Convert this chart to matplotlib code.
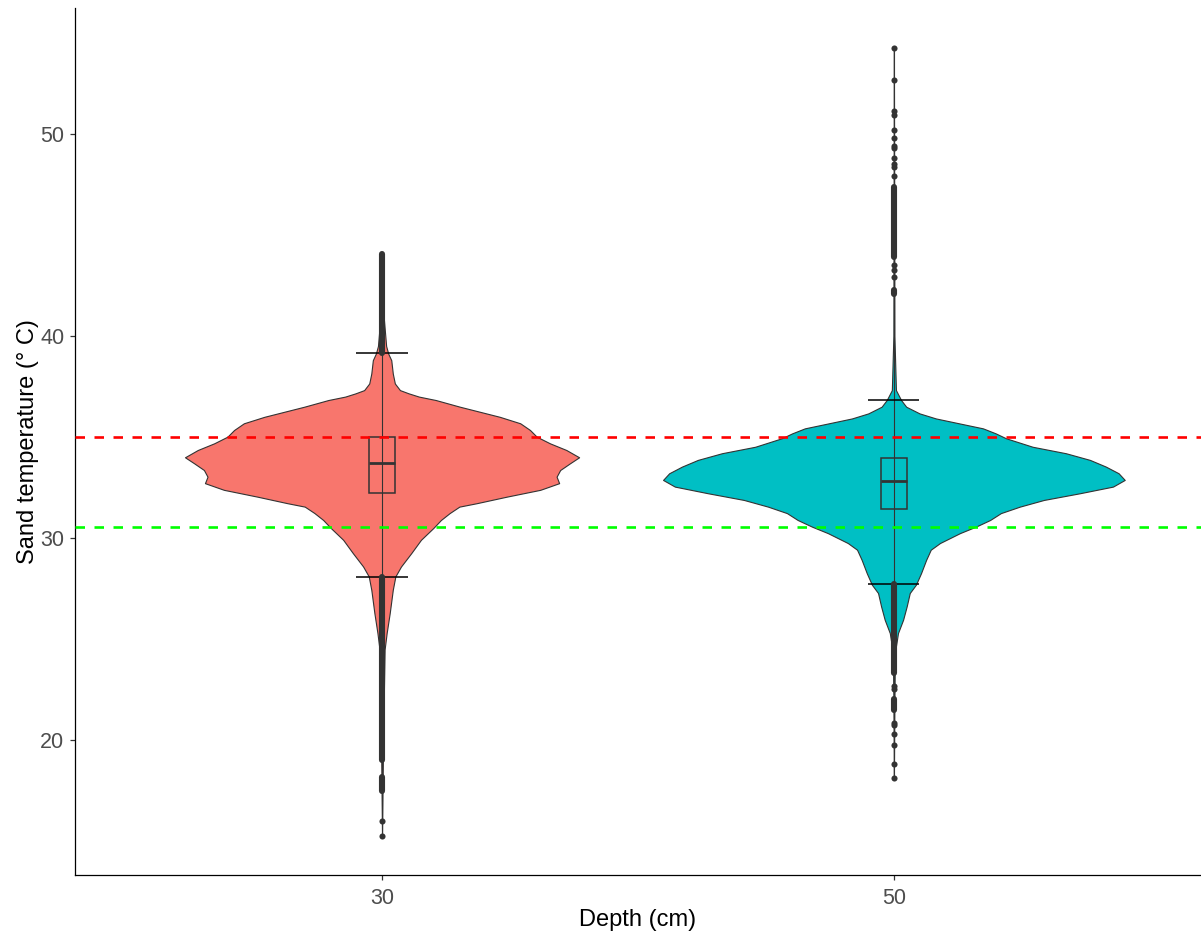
"""
Sand temperature at two burial depths: violins with box plots
"""

import matplotlib

matplotlib.use("Agg")
from matplotlib import pyplot as plt

DEPTHS = ["30", "50"]
FILL_COLOURS = ["#F8766D", "#00BFC4"]

# violin outlines: temperature (°C) and half width (x units) at that temperature
VIOLIN_30_TEMP = [
    15.28, 20.0, 24.5, 25.31, 26.30, 27.45, 28.11, 28.60, 29.26, 29.92,
    30.50, 30.90, 31.24, 31.56, 31.73, 32.05, 32.39, 32.72, 33.04, 33.37,
    33.70, 34.00, 34.36, 34.69, 35.02, 35.35, 35.68, 36.00, 36.25, 36.50,
    36.83, 37.00, 37.16, 37.32, 37.65, 38.14, 38.80, 39.13, 39.5, 41.0,
    44.05,
]
VIOLIN_30_HALF = [
    0.0, 0.002, 0.005, 0.009, 0.015, 0.021, 0.026, 0.037, 0.057, 0.076,
    0.100, 0.115, 0.132, 0.151, 0.185, 0.243, 0.309, 0.346, 0.341, 0.348,
    0.367, 0.385, 0.360, 0.328, 0.302, 0.289, 0.270, 0.230, 0.191, 0.152,
    0.105, 0.072, 0.052, 0.035, 0.025, 0.021, 0.018, 0.012, 0.008, 0.003,
    0.0,
]
VIOLIN_50_TEMP = [
    18.16, 22.0, 24.33, 25.31, 25.97, 26.63, 27.29, 27.70, 28.27, 28.93,
    29.43, 29.76, 30.25, 30.57, 30.90, 31.24, 31.56, 31.89, 32.22, 32.55,
    32.88, 33.21, 33.54, 33.87, 34.20, 34.52, 34.94, 35.18, 35.43, 35.68,
    35.92, 36.17, 36.50, 36.83, 37.32, 40.0, 54.23,
]
VIOLIN_50_HALF = [
    0.0, 0.001, 0.002, 0.008, 0.018, 0.025, 0.031, 0.043, 0.053, 0.063,
    0.072, 0.090, 0.129, 0.160, 0.188, 0.209, 0.246, 0.293, 0.363, 0.428,
    0.451, 0.439, 0.414, 0.383, 0.336, 0.271, 0.219, 0.199, 0.174, 0.127,
    0.082, 0.050, 0.024, 0.014, 0.004, 0.001, 0.0,
]

# box plot statistics per depth
BOX_Q1 = [32.22, 31.46]
BOX_MEDIAN = [33.70, 32.83]
BOX_Q3 = [35.02, 33.95]
WHISKER_LOW = [28.07, 27.73]
WHISKER_HIGH = [39.14, 36.83]
TEMP_MIN = [15.28, 18.16]
TEMP_MAX = [44.05, 54.23]

# outliers: runs where the points overlap into a solid bar, and single points
OUTLIER_RUNS_30 = [(39.14, 44.05), (19.05, 28.07), (17.49, 18.17)]
OUTLIER_POINTS_30 = [16.02, 15.28]
OUTLIER_RUNS_50 = [(43.88, 47.37), (42.07, 42.27), (23.32, 27.73), (21.52, 22.04)]
OUTLIER_POINTS_50 = [
    54.23, 52.65, 51.10, 50.90, 50.18, 49.77, 49.41, 49.29, 48.78, 48.50,
    48.34, 47.93, 43.50, 43.25, 42.90, 22.70, 22.55, 20.85, 20.78, 20.30,
    19.77, 18.85, 18.16,
]

# reference temperatures
UPPER_LIMIT = 35.0
LOWER_LIMIT = 30.57

plt.rcParams["font.family"] = ["Liberation Sans", "DejaVu Sans"]

DARK = "#333333"
POINT_SIZE = 4.4


def draw_violin(ax, pos, temps, halves, colour):
    """
    Draws one symmetric violin around x = pos
    """
    left = [pos - h for h in halves]
    right = [pos + h for h in halves]
    ax.fill_betweenx(
        temps, left, right, facecolor=colour, edgecolor=DARK, linewidth=0.8,
        zorder=1,
    )


def draw_box(ax, pos, idx):
    """
    Draws box, whisker caps and the vertical line through the data range
    """
    ax.vlines(pos, TEMP_MIN[idx], TEMP_MAX[idx], color=DARK, linewidth=0.8,
              zorder=2)
    box_w = 0.05
    ax.add_patch(
        plt.Rectangle(
            (pos - box_w / 2, BOX_Q1[idx]), box_w, BOX_Q3[idx] - BOX_Q1[idx],
            facecolor="none", edgecolor=DARK, linewidth=1.1, zorder=3,
        )
    )
    ax.hlines(BOX_MEDIAN[idx], pos - box_w / 2, pos + box_w / 2, color=DARK,
              linewidth=2.0, zorder=3)
    cap_w = 0.1
    ax.hlines([WHISKER_LOW[idx], WHISKER_HIGH[idx]], pos - cap_w / 2,
              pos + cap_w / 2, color="black", linewidth=1.1, zorder=3)


def draw_outliers(ax, pos, runs, points):
    """
    Draws the outlying temperatures as dots on the centre line
    """
    for lo, hi in runs:
        ax.vlines(pos, lo, hi, color=DARK, linewidth=POINT_SIZE,
                  capstyle="round", zorder=4)
    ax.plot([pos] * len(points), points, "o", color=DARK, markersize=POINT_SIZE,
            markeredgewidth=0, zorder=4)


def main():
    """
    Main function
    """
    fig = plt.figure(figsize=(12.01, 9.35), dpi=100)
    ax = fig.add_axes([0.0624, 0.0642, 0.9376, 0.927])

    violins = [(VIOLIN_30_TEMP, VIOLIN_30_HALF), (VIOLIN_50_TEMP, VIOLIN_50_HALF)]
    outliers = [(OUTLIER_RUNS_30, OUTLIER_POINTS_30),
                (OUTLIER_RUNS_50, OUTLIER_POINTS_50)]
    for idx, depth in enumerate(DEPTHS):
        pos = idx + 1
        draw_violin(ax, pos, *violins[idx], FILL_COLOURS[idx])
        draw_box(ax, pos, idx)
        draw_outliers(ax, pos, *outliers[idx])

    ax.axhline(UPPER_LIMIT, color="#FF0000", linewidth=1.9,
               linestyle=(0, (3.6, 3.6)), zorder=5)
    ax.axhline(LOWER_LIMIT, color="#00FF00", linewidth=1.9,
               linestyle=(0, (3.6, 3.6)), zorder=5)

    ax.set_xlim(0.4, 2.6)
    ax.set_ylim(13.35, 56.2)
    ax.set_xticks([1, 2], DEPTHS)
    ax.set_yticks([20, 30, 40, 50])

    for side in ("top", "right"):
        ax.spines[side].set_visible(False)
    for side in ("left", "bottom"):
        ax.spines[side].set_linewidth(0.9)
        ax.spines[side].set_color("black")
    ax.tick_params(length=3.6, width=0.9, color=DARK, labelcolor="#4D4D4D",
                   labelsize=15.5)
    ax.tick_params(axis="x", pad=6)
    ax.tick_params(axis="y", pad=4)

    ax.set_xlabel("Depth (cm)", fontsize=17, labelpad=0)
    ax.set_ylabel("Sand temperature (° C)", fontsize=17, labelpad=1)

    fig.savefig("out.png", dpi=100)


if __name__ == "__main__":
    main()
